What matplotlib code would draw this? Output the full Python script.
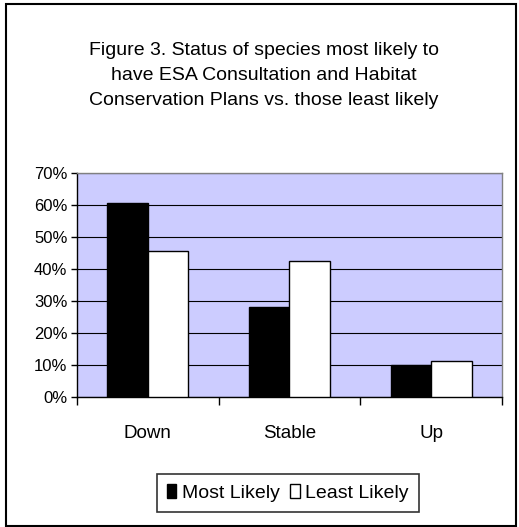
import numpy as np
import matplotlib.pyplot as plt
from matplotlib.patches import Rectangle
from matplotlib.ticker import FuncFormatter, MultipleLocator

plt.rcParams['font.family'] = ['Liberation Sans', 'DejaVu Sans']

# Share of species by population status
categories = ['Down', 'Stable', 'Up']
most_likely = [60.5, 28.1, 10.0]
least_likely = [45.6, 42.5, 11.1]

fig = plt.figure(figsize=(5.19, 5.27), dpi=100)
ax = fig.add_axes([0.1484, 0.2467, 0.8186, 0.425])

x = np.arange(len(categories))
width = 1 / 3.5
ax.bar(x - width / 2, most_likely, width, color='black', edgecolor='black',
       linewidth=1, label='Most Likely', zorder=3)
ax.bar(x + width / 2, least_likely, width, color='white', edgecolor='black',
       linewidth=1, label='Least Likely', zorder=3)

ax.set_facecolor('#ccccff')
ax.set_xlim(-0.5, 2.5)
ax.set_ylim(0, 70)
ax.yaxis.set_major_locator(MultipleLocator(10))
ax.yaxis.set_major_formatter(FuncFormatter(lambda v, p: f'{v:.0f}%'))
ax.grid(axis='y', color='black', linewidth=0.8, zorder=1)

# category ticks sit between groups, labels centered under them
ax.set_xticks([-0.5, 0.5, 1.5, 2.5])
ax.set_xticklabels([])
ax.set_xticks(x, minor=True)
ax.set_xticklabels(categories, minor=True, fontsize=13.5)
ax.tick_params(axis='x', which='major', length=5.5, width=1, direction='out')
ax.tick_params(axis='x', which='minor', length=0, pad=20)
ax.tick_params(axis='y', length=4, width=1, labelsize=12, pad=3)

for s in ['top', 'right']:
    ax.spines[s].set_color('#808080')
    ax.spines[s].set_linewidth(1)
for s in ['left', 'bottom']:
    ax.spines[s].set_color('black')
    ax.spines[s].set_linewidth(1)

fig.text(0.508, 0.857, 'Figure 3. Status of species most likely to\n'
         'have ESA Consultation and Habitat\n'
         'Conservation Plans vs. those least likely',
         ha='center', va='center', fontsize=14, linespacing=1.62)

leg = fig.legend(loc='center', bbox_to_anchor=(0.5546, 0.0645), ncol=2,
                 frameon=True, fancybox=False, edgecolor='black',
                 fontsize=14, handlelength=0.5, handleheight=0.7,
                 handletextpad=0.3, columnspacing=0.5, borderpad=0.5,
                 borderaxespad=0)
leg.get_frame().set_linewidth(1.2)

# outer chart border
fig.patches.append(Rectangle((0.0116, 0.0028), 0.983, 0.9895, transform=fig.transFigure,
                             fill=False, edgecolor='black', linewidth=1.5))

fig.savefig('out.png', dpi=100)
